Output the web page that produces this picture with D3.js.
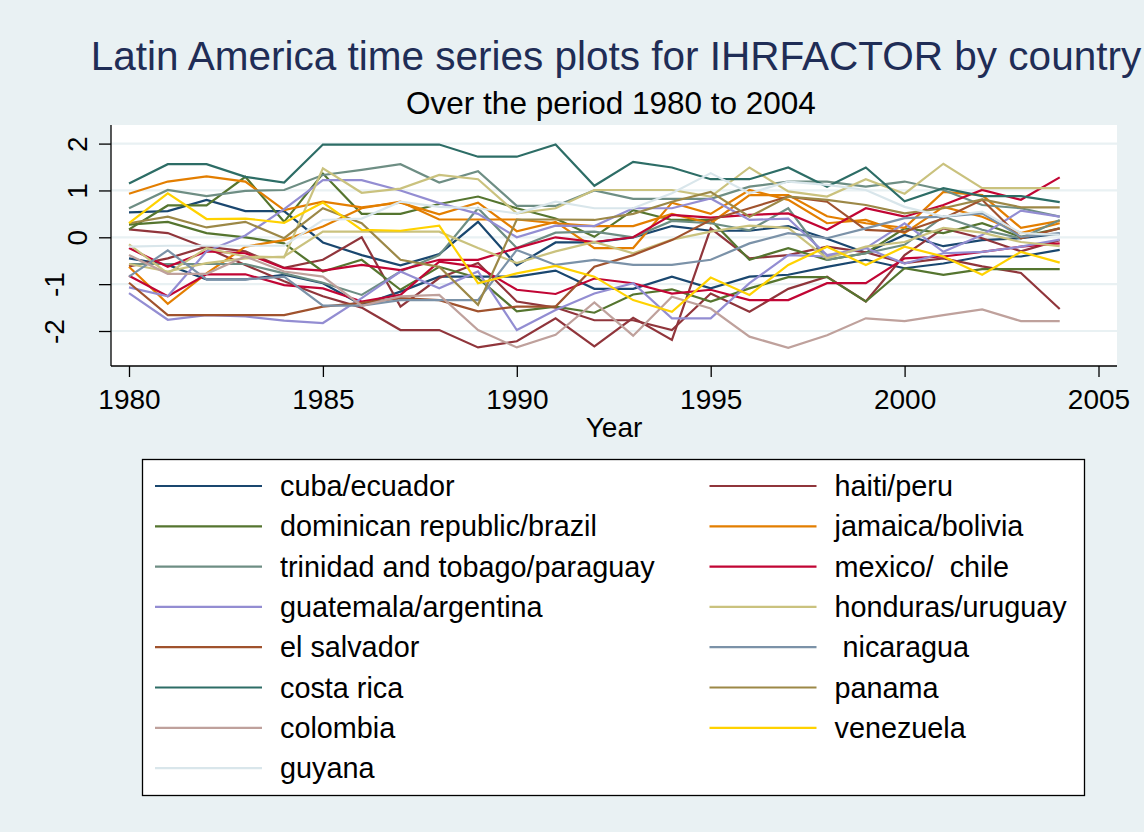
<!DOCTYPE html>
<html lang="en">
<head>
    <meta charset="UTF-8" />
    <title>Latin America time series plots for IHRFACTOR by country</title>
    <script src="https://d3js.org/d3.v7.min.js"></script>
    <style>
        body, html {
            margin: 0;
            padding: 0;
            background: #e9f1f3;
        }
        svg text {
            font-family: "Liberation Sans", Arial, sans-serif;
        }
    </style>
</head>
<body>
    <div id="chart"></div>

    <script>
        const years = [1980, 1981, 1982, 1983, 1984, 1985, 1986, 1987, 1988, 1989, 1990, 1991, 1992,
                       1993, 1994, 1995, 1996, 1997, 1998, 1999, 2000, 2001, 2002, 2003, 2004];

        const cuba      = [0.53, 0.56, 0.80, 0.56, 0.56, -0.11, -0.38, -0.60, -0.36, 0.33, -0.60, -0.11, -0.11, 0.00, 0.24, 0.14, 0.14, 0.24, -0.03, -0.33, 0.05, -0.19, -0.06, -0.02, 0.08];
        const ecuador   = [-0.45, -0.59, -0.90, -0.90, -0.80, -0.98, -1.44, -1.16, -0.84, -0.84, -0.84, -0.71, -1.10, -1.10, -0.84, -1.09, -0.84, -0.80, -0.63, -0.48, -0.66, -0.56, -0.41, -0.41, -0.27];
        const haiti     = [0.17, 0.09, -0.23, -0.59, -0.94, -1.26, -1.50, -1.98, -1.98, -2.35, -2.22, -1.73, -2.33, -1.72, -2.19, 0.19, -0.45, -0.38, -0.20, -0.32, -0.55, -0.45, -0.62, -0.76, -1.53];
        const peru      = [-0.62, -0.45, -0.20, -0.30, -0.65, -0.48, 0.00, -1.48, -0.87, -0.55, -1.37, -1.50, -1.77, -1.77, -1.98, -1.20, -1.59, -1.10, -0.84, -1.37, -0.38, 0.19, -0.02, -0.30, -0.06];
        const dominican = [0.17, 0.68, 0.68, 1.29, 0.33, 1.36, 0.50, 0.50, 0.71, 0.87, 0.62, 0.40, 0.01, 0.58, 0.37, 0.37, -0.48, -0.23, -0.48, -0.34, 0.19, 0.09, 0.30, 0.01, 0.19];
        const brazil    = [0.27, 0.33, 0.09, 0.00, -0.13, -0.73, -0.48, -1.12, -0.63, -0.87, -1.58, -1.48, -1.61, -1.22, -1.11, -1.37, -1.09, -0.85, -0.85, -1.37, -0.66, -0.80, -0.68, -0.68, -0.68];
        const jamaica   = [0.93, 1.19, 1.30, 1.19, 0.58, 0.76, 0.64, 0.74, 0.49, 0.74, 0.13, 0.33, -0.23, -0.23, 0.74, 0.50, 1.01, 0.80, 0.30, 0.37, 0.09, 0.65, 0.44, 0.09, 0.30];
        const bolivia   = [-0.63, -1.42, -0.77, -0.20, -0.06, 0.23, 0.62, 0.76, 0.38, 0.38, 0.38, 0.30, 0.24, 0.24, 0.50, 0.30, 0.90, 0.90, 0.45, 0.30, 0.20, 0.97, 0.90, 0.20, 0.35];
        const trinidad  = [0.62, 1.01, 0.88, 0.99, 1.01, 1.33, 1.44, 1.56, 1.17, 1.41, 0.67, 0.67, 1.00, 0.82, 0.82, 0.82, 1.08, 1.19, 1.19, 1.08, 1.19, 1.01, 0.69, 0.62, 0.44];
        const paraguay  = [-0.57, -0.57, -0.57, -0.57, -0.77, -0.97, -1.23, -0.73, -0.38, 0.62, -0.23, 0.10, 0.12, 0.00, 0.35, 0.30, 0.15, 0.62, -0.48, -0.34, -0.16, 0.44, 0.16, -0.02, 0.37];
        const mexico    = [-0.23, -0.63, -0.30, -0.34, -0.66, -0.71, -0.59, -0.70, -0.48, -0.48, -0.23, 0.00, -0.10, 0.00, 0.48, 0.42, 0.48, 0.51, 0.16, 0.62, 0.44, 0.69, 1.01, 0.80, 1.28];
        const chile     = [-0.82, -1.26, -0.79, -0.79, -1.02, -1.09, -1.37, -1.23, -0.52, -0.63, -1.12, -1.21, -0.88, -0.98, -1.20, -1.12, -1.34, -1.34, -0.98, -0.98, -0.45, -0.41, -0.31, -0.20, -0.13];
        const guatemala = [-1.19, -1.76, -1.66, -1.69, -1.78, -1.83, -1.30, -0.73, -1.09, -0.73, -1.98, -1.55, -1.20, -0.98, -1.73, -1.73, -0.98, -0.38, -0.41, -0.23, -0.56, -0.34, -0.31, -0.20, -0.05];
        const argentina = [-1.07, -1.26, -0.30, 0.04, 0.60, 1.22, 1.22, 1.00, 0.73, 0.50, 0.00, 0.25, 0.24, 0.62, 0.62, 0.83, 0.37, 0.40, -0.38, -0.23, 0.30, -0.31, 0.05, 0.57, 0.44];
        const honduras  = [-0.15, -0.77, -0.23, -0.41, -0.43, 1.47, 0.95, 1.04, 1.33, 1.24, 0.51, 0.62, 1.01, 1.01, 1.01, 0.87, 1.49, 0.98, 0.87, 1.24, 0.93, 1.57, 1.05, 1.05, 1.05];
        const uruguay   = [-0.57, -0.73, -0.55, -0.45, -0.41, 0.12, 0.12, 0.12, 0.12, -0.23, -0.55, -0.30, -0.10, -0.34, -0.05, 0.12, 0.25, 0.20, -0.45, -0.20, -0.10, 0.20, 0.10, -0.10, -0.19];
        const elSalvador = [-0.97, -1.66, -1.66, -1.66, -1.66, -1.48, -1.40, -1.30, -1.34, -1.58, -1.48, -1.48, -0.63, -0.38, -0.06, 0.37, 0.62, 0.87, 0.76, 0.16, 0.12, 0.40, 0.80, -0.02, 0.19];
        const nicaragua = [-0.84, -0.28, -0.90, -0.90, -0.84, -1.46, -1.46, -1.34, -1.34, -1.34, -0.27, -0.59, -0.48, -0.59, -0.59, -0.48, -0.13, 0.09, -0.02, 0.19, 0.41, 0.44, 0.51, 0.01, 0.09];
        const costaRica = [1.15, 1.56, 1.56, 1.29, 1.17, 1.98, 1.98, 1.98, 1.98, 1.72, 1.72, 1.98, 1.10, 1.61, 1.49, 1.24, 1.24, 1.49, 1.08, 1.49, 0.77, 1.05, 0.88, 0.88, 0.75];
        const panama    = [0.30, 0.44, 0.21, 0.33, -0.02, 0.62, 0.30, -0.48, -0.63, -1.44, 0.38, 0.38, 0.37, 0.50, 0.76, 0.97, 0.44, 0.87, 0.80, 0.69, 0.51, 0.62, 0.81, 0.64, 0.64];
        const colombia  = [-0.38, -0.78, -0.78, -0.41, -0.73, -0.84, -1.46, -1.26, -1.23, -1.98, -2.35, -2.08, -1.39, -2.10, -1.27, -1.52, -2.12, -2.36, -2.09, -1.73, -1.79, -1.66, -1.54, -1.79, -1.79];
        const venezuela = [0.30, 0.94, 0.39, 0.40, 0.31, 0.74, 0.16, 0.14, 0.25, -0.98, -0.77, -0.61, -0.84, -1.34, -1.59, -0.86, -1.23, -0.59, -0.20, -0.59, -0.20, -0.41, -0.80, -0.31, -0.54];
        const guyana    = [-0.20, -0.18, -0.18, -0.18, -0.18, 0.37, 0.40, 0.76, 0.65, 0.62, 0.51, 0.76, 0.62, 0.62, 0.94, 1.37, 0.94, 1.19, 1.12, 1.01, 0.65, 0.44, 0.55, 0.09, 0.05];

        const groupLabels = ["cuba/ecuador", "haiti/peru", "dominican republic/brazil", "jamaica/bolivia",
                             "trinidad and tobago/paraguay", "mexico/  chile", "guatemala/argentina",
                             "honduras/uruguay", "el salvador", " nicaragua", "costa rica", "panama",
                             "colombia", "venezuela", "guyana"];
        const groupSeries = [[cuba, ecuador], [haiti, peru], [dominican, brazil], [jamaica, bolivia],
                             [trinidad, paraguay], [mexico, chile], [guatemala, argentina],
                             [honduras, uruguay], [elSalvador], [nicaragua], [costaRica], [panama],
                             [colombia], [venezuela], [guyana]];
        // stata s2color palette
        const groupColors = ["#1a476f", "#90353b", "#55752f", "#e37e00", "#6e8e84", "#c10534", "#938dd2",
                             "#cac27e", "#a0522d", "#7b92a8", "#2d6d66", "#9c8847", "#bfa19c", "#ffd200",
                             "#d9e6eb"];

        const yTicks = [-2, -1, 0, 1, 2];
        const xTicks = [1980, 1985, 1990, 1995, 2000, 2005];

        const width = 1144;
        const height = 832;
        const plot = {left: 111, right: 1117, top: 125, bottom: 366};

        const svg = d3.select("#chart").append("svg")
            .attr("width", width)
            .attr("height", height);

        svg.append("rect")
            .attr("width", width)
            .attr("height", height)
            .attr("fill", "#e9f1f3");

        svg.append("text")
            .attr("x", 616)
            .attr("y", 70)
            .attr("text-anchor", "middle")
            .style("font-size", "40.5px")
            .attr("fill", "#1f2d56")
            .text("Latin America time series plots for IHRFACTOR by country");

        svg.append("text")
            .attr("x", 611)
            .attr("y", 114)
            .attr("text-anchor", "middle")
            .style("font-size", "31.5px")
            .attr("fill", "#000")
            .text("Over the period 1980 to 2004");

        const x = d3.scaleLinear().domain([1980, 2005]).range([129, 1098.5]);
        const y = d3.scaleLinear().domain([-2, 2]).range([331, 143.6]);

        svg.append("rect")
            .attr("x", plot.left)
            .attr("y", plot.top)
            .attr("width", plot.right - plot.left)
            .attr("height", plot.bottom - plot.top)
            .attr("fill", "#fff");

        // gridlines
        svg.append("g")
            .selectAll("line")
            .data(yTicks)
            .join("line")
            .attr("x1", plot.left)
            .attr("x2", plot.right)
            .attr("y1", d => y(d))
            .attr("y2", d => y(d))
            .attr("stroke", "#e9f1f3")
            .attr("stroke-width", 2.2);

        const line = d3.line()
            .x((d, i) => x(years[i]))
            .y(d => y(d));

        const lines = [];
        groupSeries.forEach((grp, gi) => {
            grp.forEach(vals => lines.push({values: vals, color: groupColors[gi]}));
        });

        svg.append("g")
            .selectAll("path")
            .data(lines)
            .join("path")
            .attr("d", d => line(d.values))
            .attr("fill", "none")
            .attr("stroke", d => d.color)
            .attr("stroke-width", 2.2);

        // axes
        const xAxis = svg.append("g")
            .attr("transform", `translate(0, ${plot.bottom})`)
            .call(d3.axisBottom(x).tickValues(xTicks).tickFormat(d3.format("d")).tickSize(11).tickSizeOuter(0));
        xAxis.select(".domain").remove();
        xAxis.selectAll(".tick line").attr("stroke", "#000").attr("stroke-width", 1.3);
        xAxis.selectAll(".tick text")
            .attr("y", 43)
            .attr("dy", null)
            .style("font-size", "28px")
            .attr("fill", "#000");

        const yAxis = svg.append("g")
            .attr("transform", `translate(${plot.left}, 0)`)
            .call(d3.axisLeft(y).tickValues(yTicks).tickFormat(d => String(d)).tickSize(12).tickSizeOuter(0));
        yAxis.select(".domain").remove();
        yAxis.selectAll(".tick line").attr("stroke", "#000").attr("stroke-width", 1.3);
        yAxis.selectAll(".tick text")
            .attr("x", null)
            .attr("dy", null)
            .attr("text-anchor", "middle")
            .attr("transform", d => `translate(${d < 0 ? -47 : -24}, 0) rotate(-90)`)
            .style("font-size", "28px")
            .attr("fill", "#000");

        svg.append("line")
            .attr("x1", plot.left).attr("x2", plot.left)
            .attr("y1", plot.top).attr("y2", plot.bottom)
            .attr("stroke", "#000").attr("stroke-width", 1.3);
        svg.append("line")
            .attr("x1", plot.left).attr("x2", plot.right)
            .attr("y1", plot.bottom).attr("y2", plot.bottom)
            .attr("stroke", "#000").attr("stroke-width", 1.3);

        svg.append("text")
            .attr("x", 614)
            .attr("y", 437)
            .attr("text-anchor", "middle")
            .style("font-size", "28px")
            .text("Year");

        // legend
        const legend = svg.append("g");
        legend.append("rect")
            .attr("x", 142.5)
            .attr("y", 459.5)
            .attr("width", 942)
            .attr("height", 336)
            .attr("fill", "#fff")
            .attr("stroke", "#000")
            .attr("stroke-width", 1.3);

        const items = legend.selectAll(".item")
            .data(groupLabels.map((label, i) => ({label, color: groupColors[i], i})))
            .join("g")
            .attr("class", "item")
            .attr("transform", d => `translate(${d.i % 2 === 0 ? 155 : 709.5}, ${486 + Math.floor(d.i / 2) * 40.3})`);

        items.append("line")
            .attr("x1", 0)
            .attr("x2", 107)
            .attr("stroke", d => d.color)
            .attr("stroke-width", 2.2);

        items.append("text")
            .attr("x", 125)
            .attr("y", 10)
            .style("font-size", "28.8px")
            .style("white-space", "pre")
            .attr("fill", "#000")
            .text(d => d.label);
    </script>
</body>
</html>
